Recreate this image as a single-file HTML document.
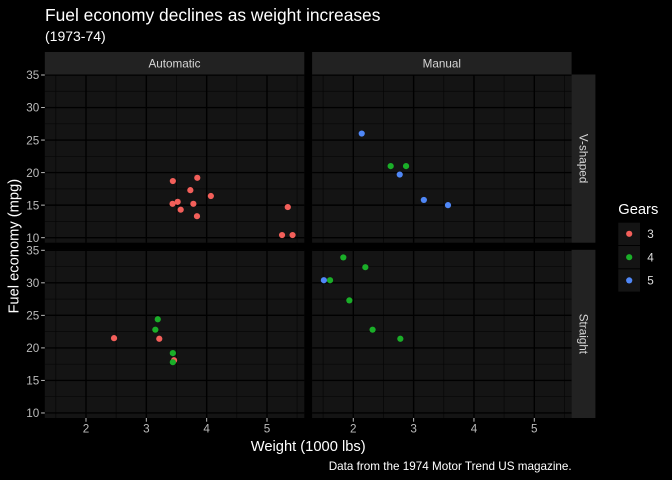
<!DOCTYPE html>
<html><head><meta charset="utf-8"><style>
html,body{margin:0;padding:0;background:#000;}
svg{display:block;font-family:"Liberation Sans",Arial,sans-serif;}
</style></head><body>
<svg width="672" height="480" viewBox="0 0 672 480" xmlns="http://www.w3.org/2000/svg">
<rect x="0" y="0" width="672" height="480" fill="#000"/>
<defs>
<g id="panel">
<rect x="0" y="0" width="259.5" height="168.2" fill="#141414"/>
<g stroke="#060606" stroke-width="0.7">
<line x1="0" x2="259.5" y1="16.77" y2="16.77"/><line x1="0" x2="259.5" y1="49.3" y2="49.3"/><line x1="0" x2="259.5" y1="81.8" y2="81.8"/><line x1="0" x2="259.5" y1="114.4" y2="114.4"/><line x1="0" x2="259.5" y1="146.9" y2="146.9"/>
<line y1="0" y2="168.2" x1="11.01" x2="11.01"/><line y1="0" y2="168.2" x1="71.34" x2="71.34"/><line y1="0" y2="168.2" x1="131.7" x2="131.7"/><line y1="0" y2="168.2" x1="192.0" x2="192.0"/><line y1="0" y2="168.2" x1="252.3" x2="252.3"/>
</g>
<g stroke="#000" stroke-width="1.4">
<line x1="0" x2="259.5" y1="0.5" y2="0.5"/><line x1="0" x2="259.5" y1="33.02" y2="33.02"/><line x1="0" x2="259.5" y1="65.56" y2="65.56"/><line x1="0" x2="259.5" y1="98.1" y2="98.1"/><line x1="0" x2="259.5" y1="130.63" y2="130.63"/><line x1="0" x2="259.5" y1="163.17" y2="163.17"/>
<line y1="0" y2="168.2" x1="41.2" x2="41.2"/><line y1="0" y2="168.2" x1="101.53" x2="101.53"/><line y1="0" y2="168.2" x1="161.86" x2="161.86"/><line y1="0" y2="168.2" x1="222.2" x2="222.2"/>
</g>
</g>
</defs>
<use href="#panel" x="44.8" y="74.5"/>
<use href="#panel" x="312.1" y="74.5"/>
<use href="#panel" x="44.8" y="249.8"/>
<use href="#panel" x="312.1" y="249.8"/>

<!-- strips -->
<rect x="44.8" y="52" width="259.5" height="22.5" fill="#222"/>
<rect x="312.1" y="52" width="259.5" height="22.5" fill="#222"/>
<rect x="571.6" y="74.5" width="23.8" height="168.2" fill="#222"/>
<rect x="571.6" y="249.8" width="23.8" height="168.2" fill="#222"/>
<g fill="#d6d6d6" font-size="11.7">
<text x="174.5" y="67.5" text-anchor="middle">Automatic</text>
<text x="441.8" y="67.5" text-anchor="middle">Manual</text>
<text transform="translate(579.5,158.6) rotate(90)" text-anchor="middle">V-shaped</text>
<text transform="translate(579.5,333.9) rotate(90)" text-anchor="middle">Straight</text>
</g>

<!-- ticks -->
<g stroke="#bbb" stroke-width="1">
<line x1="41.1" x2="44.8" y1="75" y2="75"/><line x1="41.1" x2="44.8" y1="107.52" y2="107.52"/><line x1="41.1" x2="44.8" y1="140.06" y2="140.06"/><line x1="41.1" x2="44.8" y1="172.6" y2="172.6"/><line x1="41.1" x2="44.8" y1="205.13" y2="205.13"/><line x1="41.1" x2="44.8" y1="237.67" y2="237.67"/>
<line x1="41.1" x2="44.8" y1="250.3" y2="250.3"/><line x1="41.1" x2="44.8" y1="282.82" y2="282.82"/><line x1="41.1" x2="44.8" y1="315.36" y2="315.36"/><line x1="41.1" x2="44.8" y1="347.9" y2="347.9"/><line x1="41.1" x2="44.8" y1="380.43" y2="380.43"/><line x1="41.1" x2="44.8" y1="412.97" y2="412.97"/>
<line y1="418" y2="421.7" x1="86" x2="86"/><line y1="418" y2="421.7" x1="146.33" x2="146.33"/><line y1="418" y2="421.7" x1="206.66" x2="206.66"/><line y1="418" y2="421.7" x1="267" x2="267"/>
<line y1="418" y2="421.7" x1="353.3" x2="353.3"/><line y1="418" y2="421.7" x1="413.63" x2="413.63"/><line y1="418" y2="421.7" x1="473.96" x2="473.96"/><line y1="418" y2="421.7" x1="534.3" x2="534.3"/>
</g>
<g fill="#bbb" font-size="11.7" text-anchor="end">
<text x="39.3" y="79.2">35</text><text x="39.3" y="111.7">30</text><text x="39.3" y="144.3">25</text><text x="39.3" y="176.8">20</text><text x="39.3" y="209.3">15</text><text x="39.3" y="241.9">10</text>
<text x="39.3" y="254.5">35</text><text x="39.3" y="287">30</text><text x="39.3" y="319.6">25</text><text x="39.3" y="352.1">20</text><text x="39.3" y="384.6">15</text><text x="39.3" y="417.2">10</text>
</g>
<g fill="#bbb" font-size="11.7" text-anchor="middle">
<text x="86" y="432.7">2</text><text x="146.33" y="432.7">3</text><text x="206.66" y="432.7">4</text><text x="267" y="432.7">5</text>
<text x="353.3" y="432.7">2</text><text x="413.63" y="432.7">3</text><text x="473.96" y="432.7">4</text><text x="534.3" y="432.7">5</text>
</g>

<!-- points -->
<g>
<g fill="#F35F5A">
<circle cx="172.85" cy="181.05" r="3.1"/>
<circle cx="180.69" cy="209.68" r="3.1"/>
<circle cx="210.86" cy="196.02" r="3.1"/>
<circle cx="190.35" cy="190.16" r="3.1"/>
<circle cx="193.36" cy="203.83" r="3.1"/>
<circle cx="282.05" cy="235.06" r="3.1"/>
<circle cx="292.55" cy="235.06" r="3.1"/>
<circle cx="287.78" cy="207.08" r="3.1"/>
<circle cx="177.68" cy="201.87" r="3.1"/>
<circle cx="172.55" cy="203.83" r="3.1"/>
<circle cx="196.98" cy="216.19" r="3.1"/>
<circle cx="197.28" cy="177.8" r="3.1"/>
</g>
<circle cx="390.68" cy="166.09" r="3.1" fill="#1AAE28"/>
<circle cx="406.06" cy="166.09" r="3.1" fill="#1AAE28"/>
<circle cx="361.72" cy="133.55" r="3.1" fill="#4F87F7"/>
<circle cx="423.86" cy="199.92" r="3.1" fill="#4F87F7"/>
<circle cx="399.73" cy="174.55" r="3.1" fill="#4F87F7"/>
<circle cx="447.99" cy="205.13" r="3.1" fill="#4F87F7"/>
<circle cx="159.28" cy="338.78" r="3.1" fill="#F35F5A"/>
<circle cx="174.06" cy="360.26" r="3.1" fill="#F35F5A"/>
<circle cx="157.77" cy="319.26" r="3.1" fill="#1AAE28"/>
<circle cx="155.35" cy="329.68" r="3.1" fill="#1AAE28"/>
<circle cx="172.85" cy="353.1" r="3.1" fill="#1AAE28"/>
<circle cx="172.85" cy="362.21" r="3.1" fill="#1AAE28"/>
<circle cx="114.03" cy="338.13" r="3.1" fill="#F35F5A"/>
<circle cx="372.58" cy="329.68" r="3.1" fill="#1AAE28"/>
<circle cx="365.34" cy="267.21" r="3.1" fill="#1AAE28"/>
<circle cx="330.05" cy="280.22" r="3.1" fill="#1AAE28"/>
<circle cx="343.32" cy="257.45" r="3.1" fill="#1AAE28"/>
<circle cx="349.35" cy="300.39" r="3.1" fill="#1AAE28"/>
<circle cx="323.89" cy="280.22" r="3.1" fill="#4F87F7"/>
<circle cx="400.33" cy="338.78" r="3.1" fill="#1AAE28"/>
</g>

<!-- titles -->
<text x="45" y="21" fill="#fff" font-size="17.4">Fuel economy declines as weight increases</text>
<text x="45" y="41" fill="#fff" font-size="14">(1973-74)</text>
<text x="308.2" y="451" fill="#fff" font-size="14.7" text-anchor="middle">Weight (1000 lbs)</text>
<text transform="translate(18.5,246.2) rotate(-90)" fill="#fff" font-size="14.7" text-anchor="middle">Fuel economy (mpg)</text>
<text x="571.7" y="470" fill="#fff" font-size="11.7" text-anchor="end">Data from the 1974 Motor Trend US magazine.</text>

<!-- legend -->
<text x="618.3" y="214" fill="#fff" font-size="14.7">Gears</text>
<rect x="618.3" y="222.7" width="21.7" height="22.3" fill="#141414"/>
<rect x="618.3" y="246" width="21.7" height="22.3" fill="#141414"/>
<rect x="618.3" y="269.3" width="21.7" height="22.3" fill="#141414"/>
<circle cx="629.2" cy="233.8" r="3.1" fill="#F35F5A"/>
<circle cx="629.2" cy="257.2" r="3.1" fill="#1AAE28"/>
<circle cx="629.2" cy="280.4" r="3.1" fill="#4F87F7"/>
<g fill="#ddd" font-size="11.7">
<text x="647.3" y="238">3</text>
<text x="647.3" y="261.4">4</text>
<text x="647.3" y="284.6">5</text>
</g>
</svg>
</body></html>
